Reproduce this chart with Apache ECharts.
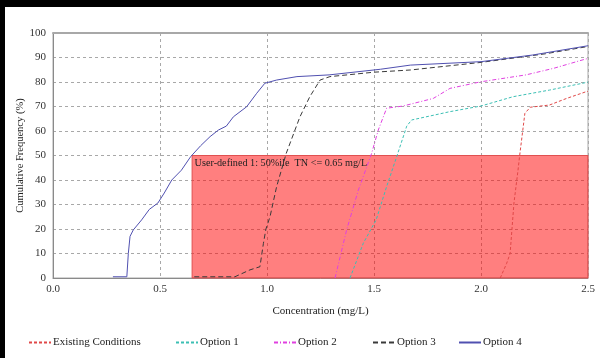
<!DOCTYPE html>
<html><head><meta charset="utf-8">
<script src="https://cdn.jsdelivr.net/npm/echarts@6/dist/echarts.min.js"></script>
<style>html,body{margin:0;padding:0;background:#fff}#c{width:600px;height:358px}</style>
</head><body><div id="c"></div>
<script>
const seriesNames = ['Existing Conditions','Option 1','Option 2','Option 3','Option 4'];
const xTicks = [0, 0.5, 1.0, 1.5, 2.0, 2.5];
const yTicks = [0,10,20,30,40,50,60,70,80,90,100];

const existingX = [2.09,2.12,2.136,2.154,2.173,2.18,2.205,2.23,2.32,2.4,2.49,2.5];
const existingY = [0,6,10,30.6,44,49.5,67.2,69.7,70.6,73.3,76,76.2];
const opt1X = [1.388,1.45,1.51,1.559,1.606,1.653,1.676,1.855,2.0,2.15,2.32,2.486,2.5];
const opt1Y = [0,14.2,23.7,37.3,49.5,62,64.5,67.9,70.2,74,76.7,79.7,80];
const opt2X = [1.318,1.372,1.427,1.489,1.52,1.559,1.636,1.777,1.855,2.0,2.21,2.34,2.486,2.5];
const opt2Y = [0,19.6,35.9,50.9,60.4,69.3,70.2,73.3,77.4,80.1,82.9,85.6,89.3,89.6];
const opt3X = [0.66,0.85,0.92,0.967,0.983,0.995,1.014,1.045,1.09,1.154,1.2,1.248,1.294,1.5,1.67,2.0,2.3,2.5];
const opt3Y = [0.5,0.5,3.3,4.6,14,20,25,37.3,50.9,65.8,74,80.8,82.2,84,84.9,88,91.5,94.5];
const opt4X = [0.28,0.345,0.352,0.36,0.375,0.414,0.45,0.49,0.52,0.555,0.6,0.643,0.69,0.734,0.773,0.81,0.843,0.905,0.952,0.99,1.045,1.14,1.29,1.53,1.67,2.0,2.24,2.5];
const opt4Y = [0.5,0.5,10,17,19.6,23.7,28,30.6,34.7,40,44,49.5,54,57.7,60.4,62,65.8,69.9,75.4,79.5,80.8,82.2,82.9,85.2,86.9,88.3,91,94.8];

const thresholdX = [0.65, 2.5];
const thresholdY = [0, 50];
const thresholdLabel = 'User-defined 1: 50%ile  TN <= 0.65 mg/L';

const zip = (xs, ys) => xs.map((x, i) => [x, ys[i]]);
const FONT = '"Liberation Serif", "Times New Roman", serif';
const colors = ['#e04848', '#3cbfb4', '#e040e0', '#3a3a3a', '#5050b0'];
const dashes = [[3,2], [3,2], [4,2,1,2], [5,3], 'solid'];
const datas = [zip(existingX, existingY), zip(opt1X, opt1Y), zip(opt2X, opt2Y), zip(opt3X, opt3Y), zip(opt4X, opt4Y)];
const legendLeft = [28, 175, 273, 372, 458];

const series = seriesNames.map((n, i) => ({
  name: n, type: 'line', data: datas[i], symbol: 'none', showSymbol: false,
  lineStyle: { color: colors[i], width: 1, type: dashes[i] },
  itemStyle: { color: colors[i] },
  z: 3 + i, silent: true, animation: false
}));
series[0].markArea = {
  silent: true,
  itemStyle: { color: 'rgba(255,0,0,0.5)', borderColor: '#e05050', borderWidth: 1 },
  label: { show: true, position: 'insideTopLeft', color: '#222', fontFamily: FONT, fontSize: 10.2, distance: 3 },
  data: [[ { name: thresholdLabel, coord: [thresholdX[0], thresholdY[1]] }, { coord: [thresholdX[1], thresholdY[0]] } ]]
};
series[0].z = 2;

const option = {
  animation: false,
  backgroundColor: '#fff',
  grid: { left: 53, right: 12, top: 33, bottom: 80, show: true, borderColor: '#a8a8a8', borderWidth: 1 },
  legend: seriesNames.map((n, i) => ({
    data: [n], left: legendLeft[i], top: 337, itemWidth: 22, itemHeight: 10, itemGap: 2, padding: 0,
    itemStyle: { opacity: 0 },
    textStyle: { fontFamily: FONT, fontSize: 11, color: '#222', padding: [0,0,0,-3] },
    selectedMode: false
  })),
  xAxis: [{
    type: 'value', min: xTicks[0], max: xTicks[xTicks.length-1], interval: 0.5,
    name: 'Concentration (mg/L)', nameLocation: 'middle', nameGap: 28, nameMoveOverlap: false,
    nameTextStyle: { fontFamily: FONT, fontSize: 11, color: '#222' },
    axisLine: { show: true, lineStyle: { color: '#8a8a8a', width: 1 } },
    axisTick: { show: false },
    axisLabel: { fontFamily: FONT, fontSize: 11, color: '#333', margin: 6, formatter: v => v.toFixed(1) },
    splitLine: { show: true, lineStyle: { color: '#a8a8a8', type: [3,3], width: 1 } }
  }, {
    type: 'value', position: 'top', min: 0, max: 2.5,
    axisLine: { show: true, onZero: false, lineStyle: { color: '#a8a8a8', width: 2 } },
    axisTick: { show: false }, axisLabel: { show: false }, splitLine: { show: false }
  }],
  yAxis: {
    type: 'value', min: yTicks[0], max: yTicks[yTicks.length-1], interval: 10,
    name: 'Cumulative Frequency (%)', nameLocation: 'middle', nameGap: 27, nameRotate: 90, nameMoveOverlap: false,
    nameTextStyle: { fontFamily: FONT, fontSize: 10.5, color: '#222' },
    axisLine: { show: true, lineStyle: { color: '#8a8a8a', width: 1 } },
    axisTick: { show: false },
    axisLabel: { fontFamily: FONT, fontSize: 11, color: '#333', margin: 7 },
    splitLine: { show: true, lineStyle: { color: '#a8a8a8', type: [3,3], width: 1 } }
  },
  graphic: [
    { type: 'rect', left: 0, top: 0, shape: { width: 600, height: 7 }, style: { fill: '#000' }, silent: true },
    { type: 'rect', left: 0, top: 0, shape: { width: 5, height: 358 }, style: { fill: '#000' }, silent: true }
  ],
  series: series
};
const chart = echarts.init(document.getElementById('c'), null, { renderer: 'canvas' });
chart.setOption(option);
</script></body></html>
